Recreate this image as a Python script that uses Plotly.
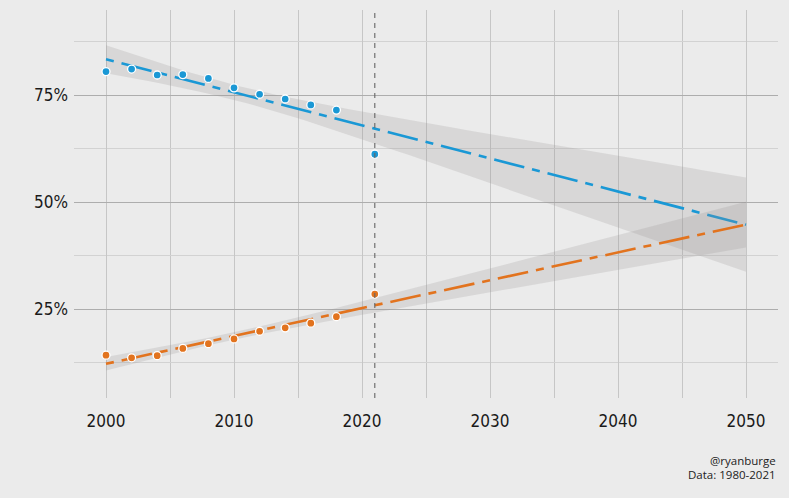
import numpy as np
import plotly.graph_objects as go

# Survey years and shares (percent) for the two groups
years = [2000, 2002, 2004, 2006, 2008, 2010, 2012, 2014, 2016, 2018, 2021]
blue_share = [80.5, 81.1, 79.7, 79.8, 78.9, 76.7, 75.2, 74.1, 72.7, 71.5, 61.2]
orange_share = [14.2, 13.6, 14.1, 15.8, 16.9, 18.0, 19.8, 20.6, 21.7, 23.2, 28.5]

x_ticks = [2000, 2010, 2020, 2030, 2040, 2050]
y_ticks = [25, 50, 75]
y_tick_text = ["25%", "50%", "75%"]

BLUE = "#1a98d5"
ORANGE = "#e2731e"
BG = "#ebebeb"
TICK_FONT = "DejaVu Sans Condensed, Roboto, sans-serif"


def lm_band(x, y, grid, level_t=2.262):
    """Linear fit with a 95% confidence band, evaluated on grid."""
    x = np.asarray(x, float)
    y = np.asarray(y, float)
    slope, intercept = np.polyfit(x, y, 1)
    resid = y - (slope * x + intercept)
    n = len(x)
    s = np.sqrt(np.sum(resid ** 2) / (n - 2))
    sxx = np.sum((x - x.mean()) ** 2)
    fit = slope * grid + intercept
    se = s * np.sqrt(1.0 / n + (grid - x.mean()) ** 2 / sxx)
    return fit, fit - level_t * se, fit + level_t * se


grid = np.linspace(2000, 2050, 101)

fig = go.Figure()

for vals, color in [(blue_share, BLUE), (orange_share, ORANGE)]:
    fit, lo, hi = lm_band(years, vals, grid)
    fig.add_trace(go.Scatter(
        x=np.concatenate([grid, grid[::-1]]),
        y=np.concatenate([hi, lo[::-1]]),
        fill="toself", fillcolor="rgba(150,145,145,0.22)",
        line=dict(width=0), hoverinfo="skip", showlegend=False,
    ))
    fig.add_trace(go.Scatter(
        x=grid, y=fit, mode="lines",
        line=dict(color=color, width=2.6, dash="8px,8px,31px,8px"),
        showlegend=False,
    ))

for vals, color in [(blue_share, BLUE), (orange_share, ORANGE)]:
    fig.add_trace(go.Scatter(
        x=years, y=vals, mode="markers",
        marker=dict(color=color, size=8, line=dict(color="white", width=1.3)),
        showlegend=False,
    ))

# Reference line at the latest survey year
fig.add_shape(type="line", xref="x", yref="paper", x0=2021, x1=2021, y0=0, y1=1,
              line=dict(color="#666666", width=1.1, dash="5px,5px"), layer="above")

fig.update_layout(
    width=789, height=498,
    margin=dict(l=74, r=11, t=10, b=100),
    paper_bgcolor=BG, plot_bgcolor=BG,
    xaxis=dict(
        range=[1997.5, 2052.5], tickmode="array", tickvals=x_ticks,
        ticktext=[str(v) for v in x_ticks],
        showgrid=True, gridcolor="#c6c6c6", gridwidth=1.2,
        zeroline=False, showline=False, ticks="", ticklabelstandoff=11,
        tickfont=dict(family=TICK_FONT, size=17, color="#1a1a1a"),
        minor=dict(tickmode="array", tickvals=[2005, 2015, 2025, 2035, 2045],
                   showgrid=True, gridcolor="#c6c6c6", gridwidth=1.2),
    ),
    yaxis=dict(
        range=[4.2, 94.9], tickmode="array", tickvals=y_ticks, ticktext=y_tick_text,
        showgrid=True, gridcolor="#adadad", gridwidth=1.1,
        zeroline=False, showline=False, ticks="", ticklabelstandoff=5,
        tickfont=dict(family=TICK_FONT, size=17, color="#1a1a1a"),
        minor=dict(tickmode="array", tickvals=[12.5, 37.5, 62.5, 87.5],
                   showgrid=True, gridcolor="#d2d2d2", gridwidth=1.1),
    ),
    showlegend=False,
)

CAPTION_FONT = dict(family="Open Sans, sans-serif", size=11.5, color="#222222")
fig.add_annotation(text="@ryanburge", xref="paper", yref="paper", x=1.0, y=-0.161,
                   xanchor="right", yanchor="middle", showarrow=False, font=CAPTION_FONT)
fig.add_annotation(text="Data: 1980-2021", xref="paper", yref="paper", x=1.0, y=-0.196,
                   xanchor="right", yanchor="middle", showarrow=False, font=CAPTION_FONT)

fig.write_html("out.html")
